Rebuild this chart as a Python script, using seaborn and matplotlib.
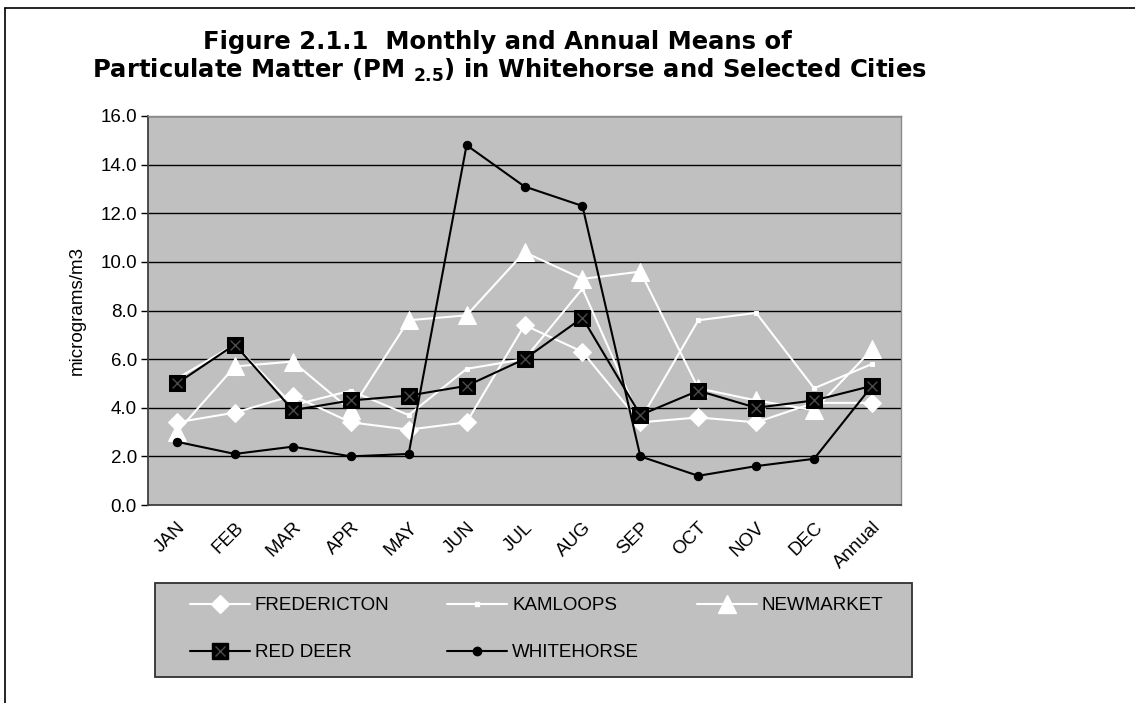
import matplotlib
matplotlib.use("Agg")
import matplotlib.pyplot as plt
import seaborn as sns
import pandas as pd
from matplotlib.lines import Line2D
from matplotlib.patches import Rectangle
from matplotlib.legend_handler import HandlerTuple

months = ["JAN", "FEB", "MAR", "APR", "MAY", "JUN", "JUL", "AUG", "SEP", "OCT", "NOV", "DEC", "Annual"]
fredericton = [3.4, 3.8, 4.5, 3.4, 3.1, 3.4, 7.4, 6.3, 3.4, 3.6, 3.4, 4.2, 4.2]
kamloops = [5.2, 6.6, 4.1, 4.7, 3.7, 5.6, 6.0, 8.9, 3.5, 7.6, 7.9, 4.8, 5.8]
newmarket = [3.0, 5.7, 5.9, 3.9, 7.6, 7.8, 10.4, 9.3, 9.6, 4.8, 4.3, 3.9, 6.4]
red_deer = [5.0, 6.6, 3.9, 4.3, 4.5, 4.9, 6.0, 7.7, 3.7, 4.7, 4.0, 4.3, 4.9]
whitehorse = [2.6, 2.1, 2.4, 2.0, 2.1, 14.8, 13.1, 12.3, 2.0, 1.2, 1.6, 1.9, 4.9]
y_ticks = [0, 2, 4, 6, 8, 10, 12, 14, 16]

sns.set_theme(style="white")
plt.rcParams["font.family"] = ["Liberation Sans", "DejaVu Sans"]
plt.rcParams["mathtext.fontset"] = "custom"
plt.rcParams["mathtext.rm"] = "DejaVu Sans"
plt.rcParams["mathtext.bf"] = "DejaVu Sans:bold"
for k in ["text.color", "axes.labelcolor", "xtick.color", "ytick.color"]:
    plt.rcParams[k] = "black"

W, H = 1135, 703
fig = plt.figure(figsize=(W / 100, H / 100), dpi=100)
fig.patch.set_facecolor("white")
ax = fig.add_axes([148 / W, 1 - 505 / H, 753 / W, 389 / H])
ax.set_facecolor("#C0C0C0")

x_pos = list(range(len(months)))

series = [
    ("FREDERICTON", fredericton, dict(color="white", marker="D", markersize=9.5, markeredgecolor="white")),
    ("KAMLOOPS", kamloops, dict(color="white", marker="s", markersize=3.5, markeredgecolor="white")),
    ("NEWMARKET", newmarket, dict(color="white", marker="^", markersize=12.5, markeredgecolor="white")),
    ("RED DEER", red_deer, dict(color="black", marker="s", markersize=11.5, markeredgecolor="black")),
    ("WHITEHORSE", whitehorse, dict(color="black", marker="o", markersize=6, markeredgecolor="black")),
]

handles = {}
for i, (name, vals, st) in enumerate(series):
    sns.lineplot(x=x_pos, y=vals, ax=ax, linewidth=1.5, zorder=3 + i, legend=False, **st)
    handles[name] = Line2D([], [], linewidth=1.5, **st)

# gray X inside the Red Deer squares
sns.scatterplot(x=x_pos, y=red_deer, ax=ax, marker="x", s=50, color="#4a4a4a",
                linewidth=1.0, zorder=10, legend=False)
handles["RED DEER"] = (handles["RED DEER"],
                       Line2D([], [], linestyle="none", marker="x", markersize=7,
                              color="#4a4a4a", markeredgewidth=1.0))

FS = 13.5
ax.set_xlim(-0.5, len(months) - 0.5)
ax.set_ylim(0, 16)
ax.set_yticks(y_ticks)
ax.set_yticklabels([f"{v:.1f}" for v in y_ticks], fontsize=FS)
ax.set_xticks(x_pos)
ax.set_xticklabels(months, rotation=45, fontsize=FS, ha="right", va="top",
                   rotation_mode="anchor")
ax.set_xticks([p - 0.5 for p in x_pos] + [len(months) - 0.5], minor=True)
ax.tick_params(axis="x", which="major", length=0, pad=10)
ax.tick_params(axis="x", which="minor", length=5, width=1, color="black", direction="out")
ax.tick_params(axis="y", length=5, width=1, color="black", direction="out", pad=3, left=True)
ax.yaxis.grid(True, color="black", linewidth=1.0)
ax.set_axisbelow(True)
ax.set_ylabel("micrograms/m3", fontsize=FS)
ax.yaxis.set_label_coords(-0.082, 0.5)
ax.set_xlabel("")
for side in ["left", "bottom"]:
    ax.spines[side].set_color("#404040")
    ax.spines[side].set_linewidth(1.3)
for side in ["top", "right"]:
    ax.spines[side].set_color("#8a8a8a")
    ax.spines[side].set_linewidth(1.0)
    ax.spines[side].set_visible(True)

# legend box
fig.add_artist(Rectangle((155 / W, 1 - 677 / H), 757 / W, 94 / H, transform=fig.transFigure,
                         facecolor="#C0C0C0", edgecolor="#303030", linewidth=1.3, zorder=1))
order = ["FREDERICTON", "RED DEER", "KAMLOOPS", "WHITEHORSE", "NEWMARKET"]
leg = fig.legend([handles[n] for n in order], order, ncol=3,
                 loc="upper left", bbox_to_anchor=(190 / W, 1 - 597 / H),
                 fontsize=FS, frameon=False, handlelength=3.2, handletextpad=0.25,
                 labelspacing=1.6, columnspacing=3.1, borderpad=0, borderaxespad=0,
                 handler_map={tuple: HandlerTuple(ndivide=1)})
leg.set_zorder(2)

fig.text(497 / W, 1 - 42 / H, "Figure 2.1.1  Monthly and Annual Means of",
         ha="center", va="center", fontsize=17.5, fontweight="bold", family="DejaVu Sans")
fig.text(509 / W, 1 - 70 / H,
         r"Particulate Matter (PM $_{\mathbf{2.5}}$) in Whitehorse and Selected Cities",
         ha="center", va="center", fontsize=17.5, fontweight="bold", family="DejaVu Sans")

# outer frame of the chart object
fig.add_artist(Line2D([5 / W, 5 / W], [0, 1 - 8 / H], color="black", linewidth=1.2,
                      transform=fig.transFigure))
fig.add_artist(Line2D([5 / W, 1], [1 - 8 / H, 1 - 8 / H], color="black", linewidth=1.2,
                      transform=fig.transFigure))

fig.savefig("out.png", dpi=100, facecolor="white")
